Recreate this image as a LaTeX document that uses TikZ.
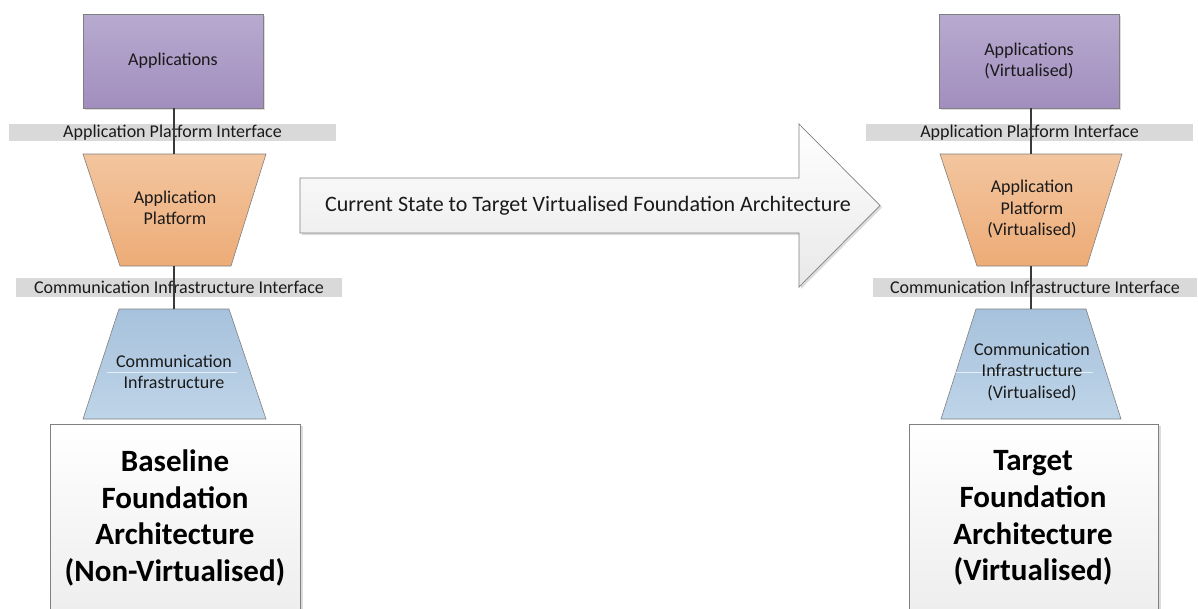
\documentclass[tikz,border=0pt]{standalone}
\usepackage{fontspec}
\setmainfont{Carlito}
\definecolor{purT}{HTML}{B7AACF}
\definecolor{purB}{HTML}{A28EBE}
\definecolor{orT}{HTML}{F3C59F}
\definecolor{orB}{HTML}{EDAC77}
\definecolor{blT}{HTML}{A7C2DC}
\definecolor{blB}{HTML}{BED4E8}
\definecolor{barC}{HTML}{D9D9D9}
\definecolor{edgeC}{HTML}{808080}
\definecolor{txtC}{HTML}{1A1A1A}
\definecolor{shadowC}{HTML}{DCDCDC}
\definecolor{lineC}{HTML}{3A3A3A}
\definecolor{boxB}{HTML}{EDEDED}
\definecolor{arrB}{HTML}{E8E8E8}
\tikzset{
  small/.style={font=\fontsize{18}{21.5}\selectfont, text=txtC, align=center, inner sep=0pt},
  appbox/.style={draw=edgeC, line width=0.8pt, top color=purT, bottom color=purB, minimum width=180pt, minimum height=94pt, inner sep=0pt, small},
  barbox/.style={fill=barC, inner sep=0pt, small},
  tplat/.style={draw=edgeC, line width=0.6pt, top color=orT, bottom color=orB},
  tcomm/.style={draw=edgeC, line width=0.6pt, top color=blT, bottom color=blB},
  conn/.style={draw=lineC, line width=1.3pt},
  bigbox/.style={draw=edgeC, line width=0.8pt, top color=white, bottom color=boxB},
  bigtext/.style={font=\fontsize{31}{36.7}\selectfont\bfseries, text=black, align=center, inner sep=0pt},
  shadowbox/.style={fill=shadowC},
  faint/.style={draw=white!70!blT, line width=0.9pt},
}
\begin{document}
\begin{tikzpicture}[x=1pt,y=-1pt]
\useasboundingbox (0,0) rectangle (1198,608);
\clip (0,0) rectangle (1198,608);
% ---------------- left column ----------------
\fill[shadowbox] (85,16) rectangle (265,110);
\node[appbox] (appL) at (173,61) {Applications};
\node[barbox, minimum width=327pt, minimum height=17pt] (apiL) at (172.5,132.5) {Application Platform Interface};
\path[tplat] (83,154) -- (266,154) -- (231,266) -- (120,266) -- cycle;
\coordinate (platLt) at (174,154);
\coordinate (platLb) at (174,266);
\node[small] (platL) at (175,208) {Application\\Platform};
\node[barbox, minimum width=326pt, minimum height=19pt] (ciiL) at (179,287.5) {Communication Infrastructure Interface};
\path[tcomm] (119,309) -- (229,309) -- (266,419) -- (83,419) -- cycle;
\coordinate (commLt) at (174,309);
\draw[faint] (107,372) -- (237,372);
\node[small] (commL) at (174,372) {Communication\\Infrastructure};
\fill[shadowbox] (52,426) rectangle (303,620);
\path[bigbox] (50,424) rectangle (300,620);
\node[bigtext] (baseL) at (175,518) {Baseline\\Foundation\\Architecture\\(Non-Virtualised)};
\draw[conn] (appL.south -| platLt) -- (platLt);
\draw[conn] (platLb) -- (commLt);
% ---------------- arrow ----------------
\fill[shadowC] (302,180) -- (801,180) -- (801,126) -- (882,207.5) -- (801,289) -- (801,235) -- (302,235) -- cycle;
\path[draw=edgeC, line width=0.7pt, top color=white, bottom color=arrB]
  (300,178) -- (799,178) -- (799,124) -- (880,205.5) -- (799,287) -- (799,233) -- (300,233) -- cycle;
\node[font=\fontsize{22}{26}\selectfont, text=txtC, inner sep=0pt] (arrT) at (588,205.5) {Current State to Target Virtualised Foundation Architecture};
% ---------------- right column ----------------
\fill[shadowbox] (941,16) rectangle (1121,110);
\node[appbox] (appR) at (1029,61) {Applications\\(Virtualised)};
\node[barbox, minimum width=327pt, minimum height=17pt] (apiR) at (1029.5,132.5) {Application Platform Interface};
\path[tplat] (940,154) -- (1122,154) -- (1087,266) -- (977,266) -- cycle;
\coordinate (platRt) at (1031,154);
\coordinate (platRb) at (1031,266);
\node[small] (platR) at (1032,209) {Application\\Platform\\(Virtualised)};
\node[barbox, minimum width=324pt, minimum height=19pt] (ciiR) at (1035,287.5) {Communication Infrastructure Interface};
\path[tcomm] (976,309) -- (1086,309) -- (1121,419) -- (941,419) -- cycle;
\coordinate (commRt) at (1031,309);
\draw[faint] (954,372) -- (1093,372);
\node[small] (commR) at (1032,372) {Communication\\Infrastructure\\(Virtualised)};
\fill[shadowbox] (911,426) rectangle (1161,620);
\path[bigbox] (909,424) rectangle (1158,620);
\node[bigtext] (baseR) at (1033,518) {Target\\Foundation\\Architecture\\(Virtualised)};
\draw[conn] (appR.south -| platRt) -- (platRt);
\draw[conn] (platRb) -- (commRt);
\end{tikzpicture}
\end{document}
